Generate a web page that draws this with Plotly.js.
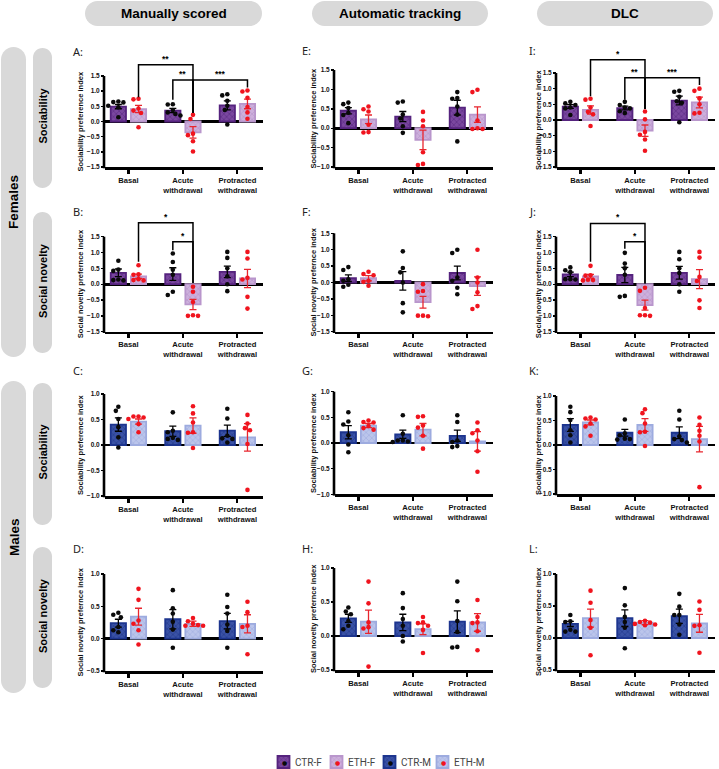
<!DOCTYPE html>
<html><head><meta charset="utf-8">
<script src="https://cdn.plot.ly/plotly-3.0.1.min.js"></script>
<style>html,body{margin:0;padding:0;background:#fff}</style>
</head><body><div id="chart" style="width:719px;height:769px"></div>
<script>
// ---------------- DATA ----------------
const categories = ['Basal', 'Acute<br>withdrawal', 'Protracted<br>withdrawal'];
const seriesNames = ['CTR-F', 'ETH-F', 'CTR-M', 'ETH-M'];
const columnHeaders = ['Manually scored', 'Automatic tracking', 'DLC'];
const rowGroups = ['Females', 'Males'];
const rowMeasures = ['Sociability', 'Social novelty', 'Sociability', 'Social novelty'];
const yTitleSoc = 'Sociability preference index';
const yTitleNov = 'Social novelty prefernce index';
const ticks15 = [-1.5, -1.0, -0.5, 0.0, 0.5, 1.0, 1.5];
const ticksE = [-1.0, -0.5, 0.0, 0.5, 1.0, 1.5];
const ticks10 = [-1.0, -0.5, 0.0, 0.5, 1.0];
const ticks05 = [-0.5, 0.0, 0.5, 1.0];

// A: manual, females, sociability
const A_ctrMean = [0.49, 0.36, 0.53];
const A_ctrSem = [0.07, 0.07, 0.15];
const A_ethMean = [0.41, -0.36, 0.58];
const A_ethSem = [0.12, 0.19, 0.16];
const A_ctrPts = [[0.63, 0.66, 0.64, 0.47, 0.52, 0.14], [0.56, 0.57, 0.38, 0.30, 0.25, 0.20], [0.86, 0.90, 0.68, 0.52, 0.38, -0.10]];
const A_ethPts = [[0.73, 0.75, 0.43, 0.36, 0.28, -0.19], [0.22, 0.08, -0.40, -0.45, -0.65, -0.99], [0.99, 1.02, 0.78, 0.48, 0.30, 0.09]];
const A_sig = [['**', 0, 1, 1, 1, 1.87, 0.80, 0.28], ['**', 1, 0, 1, 1, 1.37, 0.72, 0.28], ['***', 1, 1, 2, 1, 1.37, 0.28, 1.12]];

// B: manual, females, social novelty
const B_ctrMean = [0.36, 0.32, 0.39];
const B_ctrSem = [0.12, 0.20, 0.18];
const B_ethMean = [0.25, -0.64, 0.18];
const B_ethSem = [0.07, 0.16, 0.29];
const B_ctrPts = [[0.74, 0.46, 0.42, 0.13, 0.15, 0.12], [0.97, 0.70, 0.46, 0.30, -0.24, -0.34], [1.02, 0.83, 0.50, 0.25, 0.00, -0.22]];
const B_ethPts = [[0.60, 0.31, 0.30, 0.16, 0.13, 0.12], [-0.08, -0.24, -0.56, -0.98, -1.00, -1.00], [1.02, 0.81, 0.20, 0.15, -0.40, -0.77]];
const B_sig = [['*', 0, 1, 1, 1, 1.94, 0.71, 0.04], ['*', 1, 0, 1, 1, 1.34, 1.07, 0.04]];

// C: manual, males, sociability
const C_ctrMean = [0.40, 0.27, 0.28];
const C_ctrSem = [0.13, 0.10, 0.11];
const C_ethMean = [0.46, 0.38, 0.15];
const C_ethSem = [0.05, 0.15, 0.27];
const C_ctrPts = [[0.67, 0.75, 0.51, 0.35, 0.15, -0.05], [0.64, 0.28, 0.25, 0.14, 0.12, 0.10], [0.71, 0.52, 0.18, 0.13, 0.12, 0.05]];
const C_ethPts = [[0.56, 0.54, 0.56, 0.51, 0.41, 0.25], [0.76, 0.62, 0.44, 0.25, 0.24, -0.06], [0.59, 0.42, 0.33, 0.29, 0.02, -0.88]];

// D: manual, males, social novelty
const D_ctrMean = [0.24, 0.30, 0.27];
const D_ctrSem = [0.06, 0.15, 0.12];
const D_ethMean = [0.34, 0.23, 0.23];
const D_ethSem = [0.13, 0.04, 0.14];
const D_ctrPts = [[0.37, 0.40, 0.33, 0.13, 0.18, 0.10], [0.75, 0.47, 0.39, 0.26, 0.14, -0.14], [0.68, 0.49, 0.39, 0.22, 0.12, -0.14]];
const D_ethPts = [[0.77, 0.60, 0.28, 0.23, 0.13, -0.09], [0.32, 0.27, 0.20, 0.21, 0.20, 0.23], [0.57, 0.41, 0.20, 0.18, -0.24]];

// E: automatic, females, sociability
const E_ctrMean = [0.45, 0.30, 0.53];
const E_ctrSem = [0.08, 0.13, 0.19];
const E_ethMean = [0.23, -0.30, 0.35];
const E_ethSem = [0.11, 0.25, 0.20];
const E_ctrPts = [[0.62, 0.66, 0.52, 0.40, 0.34, 0.13], [0.66, 0.69, 0.35, 0.25, 0.05, -0.12], [0.93, 0.78, 0.76, 0.56, 0.35, -0.34]];
const E_ethPts = [[0.49, 0.56, 0.43, 0.09, -0.11, -0.10], [0.42, 0.20, 0.05, -0.62, -0.95, -0.92], [0.93, 0.99, 0.20, -0.02, -0.02, 0.00]];

// F: automatic, females, social novelty
const F_ctrMean = [0.13, 0.05, 0.29];
const F_ctrSem = [0.10, 0.28, 0.21];
const F_ethMean = [0.13, -0.60, -0.11];
const F_ethSem = [0.08, 0.18, 0.28];
const F_ctrPts = [[0.38, 0.47, 0.10, -0.13, -0.07, 0.05], [0.95, 0.44, 0.31, 0.00, -0.63, -0.91], [1.00, 0.90, 0.15, 0.05, -0.16, -0.36]];
const F_ethPts = [[0.26, 0.33, 0.22, -0.10, 0.05, 0.02], [-0.05, -0.26, -0.28, -1.01, -1.01, -1.03], [1.00, 0.15, 0.00, -0.30, -0.81, -0.72]];

// G: automatic, males, sociability
const G_ctrMean = [0.21, 0.17, 0.14];
const G_ctrSem = [0.13, 0.08, 0.11];
const G_ethMean = [0.34, 0.26, 0.03];
const G_ethSem = [0.04, 0.12, 0.19];
const G_ctrPts = [[0.60, 0.42, 0.36, 0.15, -0.03, -0.18], [0.54, 0.18, 0.05, 0.05, 0.03, 0.02], [0.54, 0.41, 0.05, 0.02, -0.08, -0.06]];
const G_ethPts = [[0.41, 0.44, 0.40, 0.29, 0.33, 0.26], [0.52, 0.51, 0.34, 0.30, 0.14, -0.11], [0.40, 0.25, 0.19, 0.05, -0.16, -0.56]];

// H: automatic, males, social novelty
const H_ctrMean = [0.26, 0.20, 0.21];
const H_ctrSem = [0.06, 0.12, 0.16];
const H_ethMean = [0.21, 0.10, 0.20];
const H_ethSem = [0.17, 0.08, 0.13];
const H_ctrPts = [[0.42, 0.36, 0.32, 0.22, 0.15, 0.10], [0.63, 0.41, 0.25, 0.15, 0.00, -0.08], [0.80, 0.51, 0.22, 0.06, -0.17, -0.16]];
const H_ethPts = [[0.80, 0.48, 0.20, 0.11, 0.13, -0.45], [0.28, 0.20, 0.19, 0.15, 0.09, -0.25], [0.53, 0.28, 0.20, 0.19, 0.07, -0.21]];

// I: DLC, females, sociability
const I_ctrMean = [0.43, 0.38, 0.62];
const I_ctrSem = [0.06, 0.06, 0.14];
const I_ethMean = [0.32, -0.34, 0.56];
const I_ethSem = [0.13, 0.18, 0.17];
const I_ctrPts = [[0.53, 0.58, 0.48, 0.40, 0.37, 0.16], [0.48, 0.58, 0.37, 0.28, 0.22, 0.40], [0.90, 0.93, 0.74, 0.55, 0.60, -0.07]];
const I_ethPts = [[0.65, 0.68, 0.40, 0.26, 0.18, -0.19], [0.27, 0.02, -0.38, -0.47, -0.62, -0.98], [0.93, 1.00, 0.69, 0.50, 0.21, 0.23]];
const I_sig = [['*', 0, 1, 1, 1, 1.92, 0.76, 0.35], ['**', 1, 0, 1, 1, 1.35, 0.65, 0.35], ['***', 1, 1, 2, 1, 1.35, 0.35, 1.12]];

// J: DLC, females, social novelty
const J_ctrMean = [0.31, 0.29, 0.36];
const J_ctrSem = [0.07, 0.24, 0.20];
const J_ethMean = [0.25, -0.66, 0.16];
const J_ethSem = [0.06, 0.16, 0.30];
const J_ctrPts = [[0.53, 0.44, 0.38, 0.16, 0.15, 0.16], [0.99, 0.65, 0.50, 0.30, -0.40, -0.37], [1.02, 0.79, 0.50, 0.35, 0.00, -0.24]];
const J_ethPts = [[0.58, 0.28, 0.27, 0.14, 0.13, 0.12], [-0.21, -0.11, -0.75, -0.98, -1.00, -0.98], [1.02, 0.84, 0.23, 0.10, -0.51, -0.75]];
const J_sig = [['*', 0, 1, 1, 1, 1.92, 0.71, 0.02], ['*', 1, 0, 1, 1, 1.34, 1.12, 0.02]];

// K: DLC, males, sociability
const K_ctrMean = [0.41, 0.25, 0.25];
const K_ctrSem = [0.13, 0.07, 0.12];
const K_ethMean = [0.46, 0.41, 0.12];
const K_ethSem = [0.05, 0.13, 0.26];
const K_ctrPts = [[0.78, 0.67, 0.51, 0.30, 0.20, 0.05], [0.52, 0.24, 0.20, 0.12, 0.13, 0.11], [0.70, 0.52, 0.18, 0.12, 0.10, 0.05]];
const K_ethPts = [[0.52, 0.56, 0.54, 0.44, 0.38, 0.19], [0.73, 0.65, 0.44, 0.27, 0.26, -0.02], [0.56, 0.41, 0.29, 0.19, 0.07, -0.86]];

// L: DLC, males, social novelty
const L_ctrMean = [0.22, 0.31, 0.34];
const L_ctrSem = [0.04, 0.13, 0.11];
const L_ethMean = [0.31, 0.24, 0.23];
const L_ethSem = [0.14, 0.03, 0.14];
const L_ctrPts = [[0.36, 0.26, 0.25, 0.10, 0.13, 0.10], [0.78, 0.51, 0.33, 0.16, -0.16, 0.25], [0.69, 0.49, 0.36, 0.36, 0.21, 0.05]];
const L_ethPts = [[0.74, 0.55, 0.28, 0.16, -0.27], [0.24, 0.25, 0.27, 0.20, 0.21, 0.22], [0.57, 0.44, 0.19, 0.20, -0.23]];

// ---------------- LAYOUT / STYLE ----------------
const W = 719, H = 769;
const FONT = 'Liberation Sans, Arial, sans-serif';
const EXT = 30;              // extra px above each plot for brackets
const XR = [-0.43, 2.47];
const OFF = 0.185, BARW = 0.28;
const colX = [[105, 263], [335, 493], [557, 715]];
const yTitleX = [80, 313, 538];
const letterX = [71, 300, 527];
const LEG_X = 263.5, LEG_STEP = 53, LEG_Y = 762;

const styles = {
  F: { ctr: { bg: '#7a479f', fg: '#57277f', line: '#55237e', err: '#000' }, eth: { bg: '#cdb0dc', fg: '#b592c8', line: '#b996cc', err: '#e8262e' } },
  M: { ctr: { bg: '#3a52a6', fg: '#203689', line: '#1d358f', err: '#000' }, eth: { bg: '#bbc5eb', fg: '#9daadf', line: '#9dabdf', err: '#e8262e' } }
};
const dotColors = { ctr: '#0a0a0a', eth: '#f0141e' };

const panels = [
  { L: 'A', col: 0, top: 76, bot: 167, t: ticks15, sex: 'F', title: yTitleSoc, cm: A_ctrMean, cs: A_ctrSem, em: A_ethMean, es: A_ethSem, cp: A_ctrPts, ep: A_ethPts, sig: A_sig, ly: 52 },
  { L: 'B', col: 0, top: 236.7, bot: 331.7, t: ticks15, sex: 'F', title: yTitleNov, cm: B_ctrMean, cs: B_ctrSem, em: B_ethMean, es: B_ethSem, cp: B_ctrPts, ep: B_ethPts, sig: B_sig, ly: 212 },
  { L: 'C', col: 0, top: 394, bot: 496, t: ticks10, sex: 'M', title: yTitleSoc, cm: C_ctrMean, cs: C_ctrSem, em: C_ethMean, es: C_ethSem, cp: C_ctrPts, ep: C_ethPts, sig: [], ly: 370 },
  { L: 'D', col: 0, top: 574, bot: 671, t: ticks05, sex: 'M', title: yTitleNov, cm: D_ctrMean, cs: D_ctrSem, em: D_ethMean, es: D_ethSem, cp: D_ctrPts, ep: D_ethPts, sig: [], ly: 548 },
  { L: 'E', col: 1, top: 70, bot: 167, t: ticksE, sex: 'F', title: yTitleSoc, cm: E_ctrMean, cs: E_ctrSem, em: E_ethMean, es: E_ethSem, cp: E_ctrPts, ep: E_ethPts, sig: [], ly: 51 },
  { L: 'F', col: 1, top: 233.3, bot: 331.7, t: ticks15, sex: 'F', title: yTitleNov, cm: F_ctrMean, cs: F_ctrSem, em: F_ethMean, es: F_ethSem, cp: F_ctrPts, ep: F_ethPts, sig: [], ly: 212 },
  { L: 'G', col: 1, top: 391.7, bot: 494.3, t: ticks10, sex: 'M', title: yTitleSoc, cm: G_ctrMean, cs: G_ctrSem, em: G_ethMean, es: G_ethSem, cp: G_ctrPts, ep: G_ethPts, sig: [], ly: 370 },
  { L: 'H', col: 1, top: 568, bot: 670, t: ticks05, sex: 'M', title: yTitleNov, cm: H_ctrMean, cs: H_ctrSem, em: H_ethMean, es: H_ethSem, cp: H_ctrPts, ep: H_ethPts, sig: [], ly: 548 },
  { L: 'I', col: 2, top: 73, bot: 167, t: ticks15, sex: 'F', title: yTitleSoc, cm: I_ctrMean, cs: I_ctrSem, em: I_ethMean, es: I_ethSem, cp: I_ctrPts, ep: I_ethPts, sig: I_sig, ly: 50 },
  { L: 'J', col: 2, top: 236.7, bot: 331.7, t: ticks15, sex: 'F', title: yTitleNov, cm: J_ctrMean, cs: J_ctrSem, em: J_ethMean, es: J_ethSem, cp: J_ctrPts, ep: J_ethPts, sig: J_sig, ly: 212 },
  { L: 'K', col: 2, top: 396, bot: 494, t: ticks10, sex: 'M', title: yTitleSoc, cm: K_ctrMean, cs: K_ctrSem, em: K_ethMean, es: K_ethSem, cp: K_ctrPts, ep: K_ethPts, sig: [], ly: 370 },
  { L: 'L', col: 2, top: 574, bot: 670, t: ticks05, sex: 'M', title: yTitleNov, cm: L_ctrMean, cs: L_ctrSem, em: L_ethMean, es: L_ethSem, cp: L_ctrPts, ep: L_ethPts, sig: [], ly: 548 }
];

const px = v => v / W, py = v => 1 - v / H;
const data = [];
const layout = {
  width: W, height: H, margin: { l: 0, r: 0, t: 0, b: 0, autoexpand: false },
  paper_bgcolor: '#ffffff', plot_bgcolor: 'rgba(0,0,0,0)',
  barmode: 'overlay', showlegend: true,
  font: { family: FONT, color: '#000' },
  legend: { orientation: 'h', x: px(LEG_X), xanchor: 'left', y: py(LEG_Y), yanchor: 'middle',
            entrywidth: 8, entrywidthmode: 'pixels',
            font: { family: 'Roboto, sans-serif', size: 10, color: '#444' }, bgcolor: 'rgba(0,0,0,0)', itemwidth: 30 },
  shapes: [], annotations: []
};
function ann(o) { layout.annotations.push(Object.assign({ xref: 'paper', yref: 'paper', showarrow: false, xanchor: 'center', yanchor: 'middle' }, o)); }

function swarm(vals, pxX, pxY, d) {
  const idx = vals.map((v, i) => i).sort((a, b) => vals[b] - vals[a]);
  const placed = [], off = new Array(vals.length).fill(0);
  const cands = [0, -1, 1, -2, 2, -3, 3, -4, 4];
  for (const i of idx) {
    for (const c of cands) {
      const xo = c * d * 0.55;
      if (placed.every(p => Math.hypot(p.x - xo, (p.y - vals[i]) * pxY) >= d)) {
        off[i] = xo / pxX; placed.push({ x: xo, y: vals[i] }); break;
      }
    }
  }
  return off;
}

function pillPath(x0, y0, x1, y1) {
  const r = Math.min(x1 - x0, y1 - y0) / 2, k = 0.5523 * r;
  const P = (x, y) => px(x).toFixed(5) + ',' + py(y).toFixed(5);
  return 'M' + P(x0 + r, y0) + 'L' + P(x1 - r, y0) +
    'C' + P(x1 - r + k, y0) + ' ' + P(x1, y0 + r - k) + ' ' + P(x1, y0 + r) +
    'L' + P(x1, y1 - r) +
    'C' + P(x1, y1 - r + k) + ' ' + P(x1 - r + k, y1) + ' ' + P(x1 - r, y1) +
    'L' + P(x0 + r, y1) +
    'C' + P(x0 + r - k, y1) + ' ' + P(x0, y1 - r + k) + ' ' + P(x0, y1 - r) +
    'L' + P(x0, y0 + r) +
    'C' + P(x0, y0 + r - k) + ' ' + P(x0 + r - k, y0) + ' ' + P(x0 + r, y0) + 'Z';
}
function pill(x0, y0, x1, y1, color) {
  layout.shapes.push({ type: 'path', xref: 'paper', yref: 'paper', path: pillPath(x0, y0, x1, y1),
    fillcolor: color, line: { width: 0 }, layer: 'below' });
}

const catIdx = categories.map((c, i) => i);
const legendShown = {};

panels.forEach((p, n) => {
  const k = n + 1;
  const xa = k === 1 ? 'x' : 'x' + k, ya = k === 1 ? 'y' : 'y' + k;
  const xn = k === 1 ? 'xaxis' : 'xaxis' + k, yn = k === 1 ? 'yaxis' : 'yaxis' + k;
  const [c0, c1] = colX[p.col];
  const ymin = p.t[0], ymax = p.t[p.t.length - 1];
  const pxY = (p.bot - p.top) / (ymax - ymin);
  const pxX = (c1 - c0) / (XR[1] - XR[0]);
  layout[xn] = {
    domain: [px(c0), px(c1)], range: XR, anchor: ya, fixedrange: true,
    showgrid: false, zeroline: false, showline: true, linecolor: '#000', linewidth: 2.6,
    ticks: 'outside', ticklen: 4, tickwidth: 2.2, tickcolor: '#000',
    tickvals: catIdx, ticktext: categories,
    tickfont: { family: FONT, size: 7.6, color: '#111', weight: 700 }
  };
  layout[yn] = {
    domain: [py(p.bot), py(p.top - EXT)], range: [ymin, ymax + EXT / pxY], anchor: xa, fixedrange: true,
    showgrid: false, zeroline: true, zerolinecolor: '#000', zerolinewidth: 2.6, showline: false,
    ticks: 'outside', ticklen: 3, tickwidth: 1.4, tickcolor: '#000',
    tickvals: p.t, tickformat: '.1f',
    tickfont: { family: FONT, size: 6.5, color: '#111', weight: 700 }
  };
  // y axis line (nominal range only)
  layout.shapes.push({ type: 'line', xref: 'paper', yref: 'paper', x0: px(c0 - 1), x1: px(c0 - 1),
    y0: py(p.bot + 1.3), y1: py(p.top), line: { color: '#000', width: 2.6 } });

  const st = styles[p.sex];
  const groups = [
    { key: 'ctr', name: p.sex === 'F' ? seriesNames[0] : seriesNames[2], mean: p.cm, sem: p.cs, pts: p.cp, off: -OFF },
    { key: 'eth', name: p.sex === 'F' ? seriesNames[1] : seriesNames[3], mean: p.em, sem: p.es, pts: p.ep, off: OFF }
  ];
  groups.forEach(g => {
    const s = st[g.key];
    const show = !legendShown[g.name];
    legendShown[g.name] = true;
    // legend entry text is drawn as an annotation next to the swatch (closer spacing than Plotly's default)
    data.push({
      type: 'bar', x: catIdx.map(i => i + g.off), y: g.mean, width: BARW,
      xaxis: xa, yaxis: ya, name: '', legendgroup: g.name, showlegend: show, hoverinfo: 'skip',
      marker: { color: s.bg, line: { color: s.line, width: 1.8 },
        pattern: { shape: 'x', bgcolor: s.bg, fgcolor: s.fg, size: 4, solidity: 0.25 } },
      error_y: { type: 'data', array: g.sem, visible: true, color: s.err, thickness: 1.3, width: 3.5 }
    });
    const xs = [], ys = [];
    g.pts.forEach((arr, i) => {
      const o = swarm(arr, pxX, pxY, 4.6);
      arr.forEach((v, j) => { xs.push(i + g.off + o[j]); ys.push(v); });
    });
    data.push({
      type: 'scatter', mode: 'markers', x: xs, y: ys, xaxis: xa, yaxis: ya, showlegend: false,
      name: g.name, hoverinfo: 'skip', cliponaxis: false, marker: { color: dotColors[g.key], size: 4.6, line: { width: 0 } }
    });
  });

  // significance brackets: [label, cat a, series a, cat b, series b, level, leg a bottom, leg b bottom]
  p.sig.forEach(b => {
    const xA = b[1] + (b[2] ? OFF : -OFF), xB = b[3] + (b[4] ? OFF : -OFF);
    layout.shapes.push({ type: 'path', xref: xa, yref: ya,
      path: `M${xA},${b[6]}L${xA},${b[5]}L${xB},${b[5]}L${xB},${b[7]}`,
      line: { color: '#000', width: 1.5 } });
    layout.annotations.push({ xref: xa, yref: ya, x: (xA + xB) / 2, y: b[5], text: '<b>' + b[0] + '</b>',
      showarrow: false, xanchor: 'center', yanchor: 'bottom', yshift: -1, font: { family: FONT, size: 8.5, color: '#000' } });
  });

  ann({ x: px(letterX[p.col]), y: py(p.ly), text: p.L + ':', xanchor: 'left',
    font: { family: 'Noto Sans, sans-serif', size: 11, color: '#222' } });
  ann({ x: px(yTitleX[p.col]), y: py((p.top + p.bot) / 2), text: '<b>' + p.title + '</b>', textangle: -90,
    font: { family: FONT, size: 7.5, color: '#111' } });
});

// column header pills
const headerBoxes = [[85, 262], [312, 488], [537, 713]];
columnHeaders.forEach((h, i) => {
  const [a, b] = headerBoxes[i];
  pill(a, 1, b, 26, '#d9d9d9');
  ann({ x: px((a + b) / 2), y: py(13.5), text: '<b>' + h + '</b>', font: { family: FONT, size: 13.5, color: '#000' } });
});
// row pills
const outerBoxes = [[47, 357], [381, 693]];
rowGroups.forEach((g, i) => {
  const [a, b] = outerBoxes[i];
  pill(1, a, 26, b, '#d9d9d9');
  ann({ x: px(14), y: py((a + b) / 2), text: '<b>' + g + '</b>', textangle: -90, font: { family: FONT, size: 13.5, color: '#000' } });
});
const innerBoxes = [[48, 188], [212, 353], [383, 525], [547, 688]];
rowMeasures.forEach((m, i) => {
  const [a, b] = innerBoxes[i];
  pill(33, a, 52, b, '#d6d6d6');
  ann({ x: px(42.5), y: py((a + b) / 2 - 2), text: '<b>' + m + '</b>', textangle: -90, font: { family: FONT, size: 11, color: '#000' } });
});

// legend labels and centre dots (drawn on top of the legend swatches)
seriesNames.forEach((s, i) => {
  const cx = LEG_X + 21 + i * LEG_STEP;
  ann({ x: px(cx), y: py(LEG_Y), text: '\u25CF', font: { family: 'DejaVu Sans', size: 6, color: i % 2 ? dotColors.eth : dotColors.ctr } });
  ann({ x: px(cx + 8.5), y: py(LEG_Y), text: s, xanchor: 'left', font: { family: 'Roboto, sans-serif', size: 10, color: '#444' } });
});

Plotly.newPlot('chart', data, layout, { displayModeBar: false, staticPlot: true });
</script>
</body></html>
